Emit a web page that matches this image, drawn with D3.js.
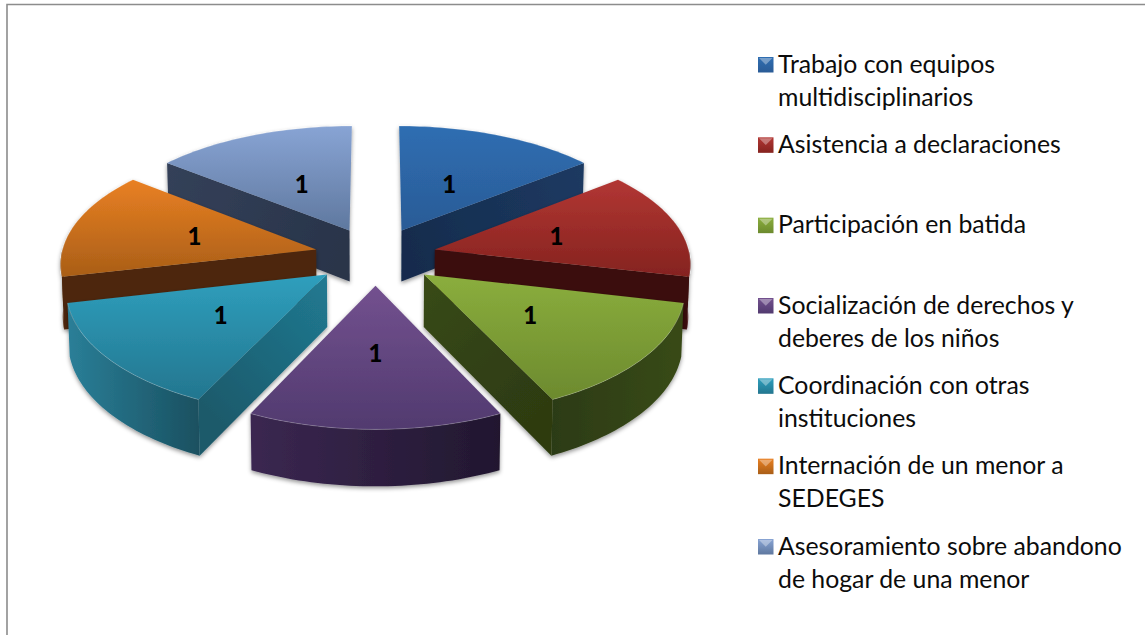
<!DOCTYPE html>
<html>
<head>
<meta charset="utf-8">
<script src="https://d3js.org/d3.v7.min.js"></script>
<style>
html, body { margin: 0; padding: 0; background: #fff; overflow: hidden; }
text { font-family: Lato, "Open Sans", sans-serif; fill: #0c0c0c; }
</style>
</head>
<body>
<svg id="chart" width="1145" height="635"></svg>
<script>
// chart data
var categories = [
    "Trabajo con equipos multidisciplinarios",
    "Asistencia a declaraciones",
    "Participación en batida",
    "Socialización de derechos y deberes de los niños",
    "Coordinación con otras instituciones",
    "Internación de un menor a SEDEGES",
    "Asesoramiento sobre abandono de hogar de una menor"
];
var values = [1, 1, 1, 1, 1, 1, 1];
var legendLines = [
    ["Trabajo con equipos", "multidisciplinarios"],
    ["Asistencia a declaraciones"],
    ["Participación en batida"],
    ["Socialización de derechos y", "deberes de los niños"],
    ["Coordinación con otras", "instituciones"],
    ["Internación de un menor a", "SEDEGES"],
    ["Asesoramiento sobre abandono", "de hogar de una menor"]
];

// top gradient start, top gradient end, cut wall at apex, cut wall at rim, outer wall left, outer wall right
var palette = [
    ["#2f6eb2", "#2a5b96", "#162c4d", "#1c3a62", "#1c3a62", "#172c4b"],
    ["#b23633", "#85231f", "#3b0f0d", "#3b0f0d", "#4a1311", "#3b0f0d"],
    ["#8bae3d", "#6c8a2e", "#384a16", "#2d3b11", "#2c3b12", "#384a17"],
    ["#73518f", "#513a6f", "#3a2550", "#3a2550", "#3b2751", "#21172f"],
    ["#2f9fbd", "#23768f", "#217a92", "#1a5a6b", "#2a7f98", "#1a5060"],
    ["#e98023", "#a95e17", "#4e270a", "#4e270a", "#4e270a", "#4e270a"],
    ["#88a4d4", "#5f789f", "#29344a", "#344159", "#2e3a50", "#2e3a50"]
];

var cx = 375.5, cy = 256;
var rx = 255, ry = 121;
var kx = 0.1, ky = 0.1086;
var explode = 0.24;

var svg = d3.select("#chart");
var defs = svg.append("defs");

// soft shadow under each slice
var shadow = defs.append("filter").attr("id", "shadow")
    .attr("x", "-10%").attr("y", "-10%").attr("width", "120%").attr("height", "125%");
shadow.append("feDropShadow")
    .attr("dx", 0).attr("dy", 2).attr("stdDeviation", 2)
    .attr("flood-color", "#000").attr("flood-opacity", 0.42);

function gradient(id, x2, y2, from, to) {
    var g = defs.append("linearGradient").attr("id", id)
        .attr("x1", 0).attr("y1", 0).attr("x2", x2).attr("y2", y2);
    g.append("stop").attr("offset", "0%").attr("stop-color", from);
    g.append("stop").attr("offset", "100%").attr("stop-color", to);
}

palette.forEach(function(p, i) {
    gradient("top" + i, 0, 1, p[0], p[1]);
    gradient("rim" + i, 1, 0, p[4], p[5]);
});

// frame
svg.append("path")
    .attr("d", d3.line()([[7, 635], [7, 4.5], [1145, 4.5]]))
    .attr("fill", "none").attr("stroke", "#8c8c8c").attr("stroke-width", 1.6);

// plane coordinates (u right, v away from viewer) to the tilted picture
function project(u, v, drop) {
    var depth = drop ? 52 - 4 * v : 0;
    var inward = drop ? 0.993 : 1;
    return [
        cx + inward * rx * u / (1 + kx * v),
        cy - ry * v / (1 + ky * v) + depth
    ];
}

function planePoint(slice, r, a) {
    var mid = (slice.startAngle + slice.endAngle) / 2;
    return {
        u: explode * Math.sin(mid) + r * Math.sin(a),
        v: explode * Math.cos(mid) + r * Math.cos(a)
    };
}

function point(slice, r, a, drop) {
    var p = planePoint(slice, r, a);
    return project(p.u, p.v, drop);
}

var pie = d3.pie().sort(null).value(function(d) { return d; });
var slices = pie(values);
var line = d3.line();

function rimPoints(slice, a0, a1, drop) {
    return d3.range(0, 41).map(function(t) {
        return point(slice, 1, a0 + (a1 - a0) * t / 40, drop);
    });
}

// furthest slices first so that the nearer ones overlap them
var order = d3.range(slices.length).sort(function(a, b) {
    var ma = (slices[a].startAngle + slices[a].endAngle) / 2;
    var mb = (slices[b].startAngle + slices[b].endAngle) / 2;
    return Math.cos(mb) - Math.cos(ma);
});

var pieLayer = svg.append("g");

order.forEach(function(i) {
    var s = slices[i];
    var g = pieLayer.append("g").attr("filter", "url(#shadow)");
    var a0 = s.startAngle, a1 = s.endAngle;

    // outer wall, only the part that faces the viewer
    var w0 = Math.max(a0, Math.PI / 2), w1 = Math.min(a1, Math.PI * 1.5);
    if (w1 > w0) {
        var upper = rimPoints(s, w0, w1, false);
        var lower = rimPoints(s, w0, w1, true).reverse();
        g.append("path")
            .attr("d", line(upper.concat(lower)) + "Z")
            .attr("fill", "url(#rim" + i + ")");
    }

    // cut walls, shaded from the apex out to the rim
    [a0, a1].forEach(function(a, j) {
        var visible = j === 0 ? Math.sin(a) < 0 : Math.sin(a) > 0;
        if (!visible) return;
        var apex = point(s, 0, a, false), outer = point(s, 1, a, false);
        var wall = [apex, outer, point(s, 1, a, true), point(s, 0, a, true)];
        var cut = defs.append("linearGradient").attr("id", "cut" + i)
            .attr("gradientUnits", "userSpaceOnUse")
            .attr("x1", apex[0]).attr("y1", apex[1])
            .attr("x2", outer[0]).attr("y2", outer[1]);
        cut.append("stop").attr("offset", "0%").attr("stop-color", palette[i][2]);
        cut.append("stop").attr("offset", "100%").attr("stop-color", palette[i][3]);
        g.append("path")
            .attr("d", line(wall) + "Z")
            .attr("fill", "url(#cut" + i + ")");
    });

    // top face
    var face = [point(s, 0, a0, false)].concat(rimPoints(s, a0, a1, false));
    g.append("path")
        .attr("d", line(face) + "Z")
        .attr("fill", "url(#top" + i + ")");

    // thin bevel highlight along the rim
    g.append("path")
        .attr("d", line(rimPoints(s, a0, a1, false)))
        .attr("fill", "none")
        .attr("stroke", "#fff").attr("stroke-opacity", 0.22).attr("stroke-width", 1);
});

// data labels, the ones on the two far slices sit a little nearer the middle
slices.forEach(function(s) {
    var mid = (s.startAngle + s.endAngle) / 2;
    var p = point(s, Math.cos(mid) > 0.5 ? 0.47 : 0.5, mid, false);
    svg.append("text")
        .attr("x", p[0]).attr("y", p[1] + 9)
        .attr("text-anchor", "middle")
        .attr("font-size", 24).attr("font-weight", 900)
        .style("fill", "#000")
        .text(s.value);
});

// legend
var legendY = d3.scalePoint()
    .domain(categories)
    .range([64, 546]);
var legend = svg.append("g");

categories.forEach(function(c, i) {
    var y = legendY(c);
    var m = 758, size = 15.5, top = y - 7;
    var row = legend.append("g");
    row.append("rect")
        .attr("x", m).attr("y", top).attr("width", size).attr("height", size)
        .attr("fill", "url(#top" + i + ")");
    row.append("path")
        .attr("d", line([[m + 1, top + 1], [m + size - 1, top + 1], [m + size / 2, top + size / 2]]) + "Z")
        .attr("fill", "#fff").attr("fill-opacity", 0.35);
    legendLines[i].forEach(function(t, j) {
        row.append("text")
            .attr("x", 778).attr("y", y + 8.5 + j * 33)
            .attr("font-size", 24.8)
            .text(t);
    });
});
</script>
</body>
</html>
